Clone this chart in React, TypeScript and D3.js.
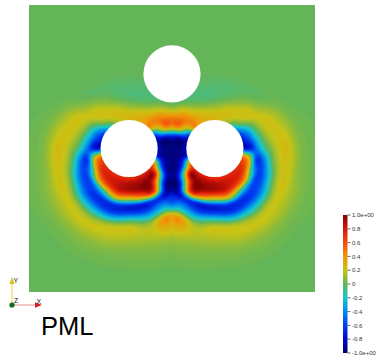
import { useMemo } from "react";
import * as d3 from "d3";

const W = 376;
const H = 355;

// field square in the page
const fieldLeft = 29, fieldTop = 5, fieldW = 286, fieldH = 287;

// holes (data units, domain -1..1)
const holeX = [0, -0.3, 0.3];
const holeY = [0.52, 0, 0];
const holeR = 0.2;

// field read around the lower-left hole (polar, angle in degrees from +x, y up);
// right half is the mirror image
const radii = [0.2, 0.25, 0.3, 0.35, 0.4, 0.45, 0.5, 0.55, 0.6, 0.7, 0.8, 0.9];
const at0 = [-0.85, -0.95, -0.95, -0.95, -0.9, -0.9, -0.9, -0.9, -0.9, -0.9, -0.9, -0.9];
const at15 = [-0.85, -0.92, -0.8, -0.4, -0.1, 0.1, 0.2, 0.1, 0, 0, 0, 0];
const at30 = [-0.55, 0.0, 0.45, 0.5, 0.45, 0.35, 0.25, 0.15, 0.05, 0, 0, 0];
const at45 = [0.4, 0.45, 0.45, 0.3, 0.1, 0, -0.02, 0, 0, 0, 0, 0];
const at60 = [0.35, 0.33, 0.2, 0.05, -0.04, -0.03, 0, 0, 0, 0, 0, 0];
const at75 = [0.3, 0.25, 0.1, -0.03, -0.05, -0.03, -0.01, 0, 0, 0, 0, 0];
const at90 = [0.28, 0.22, 0.08, -0.03, -0.05, -0.03, -0.01, 0, 0, 0, 0, 0];
const at105 = [0.2, 0.25, 0.15, 0.02, -0.03, -0.03, -0.01, 0, 0, 0, 0, 0];
const at120 = [0.05, 0.2, 0.22, 0.12, 0.03, -0.02, -0.01, 0, 0, 0, 0, 0];
const at135 = [-0.3, 0.05, 0.2, 0.22, 0.12, 0.04, 0, 0, 0, 0, 0, 0];
const at150 = [-0.6, -0.35, -0.05, 0.15, 0.22, 0.18, 0.1, 0.04, 0.01, 0, 0, 0];
const at165 = [-0.75, -0.55, -0.2, 0.05, 0.18, 0.22, 0.18, 0.1, 0.04, 0.01, 0, 0];
const at180 = [-0.8, -0.7, -0.4, -0.1, 0.08, 0.2, 0.25, 0.15, 0.06, 0.01, 0, 0];
const at195 = [0.45, 0.2, -0.6, -0.5, -0.12, 0.12, 0.22, 0.18, 0.08, 0.02, 0, 0];
const at210 = [0.7, 0.55, -0.2, -0.6, -0.45, -0.08, 0.15, 0.22, 0.14, 0.04, 0.01, 0];
const at225 = [0.72, 0.75, 0.35, -0.45, -0.6, -0.4, -0.05, 0.18, 0.18, 0.06, 0.01, 0];
const at240 = [0.72, 0.8, 0.6, -0.15, -0.65, -0.55, -0.2, 0.1, 0.2, 0.08, 0.02, 0];
const at255 = [0.72, 0.85, 0.8, 0.3, -0.6, -0.65, -0.25, 0.15, 0.2, 0.08, 0.02, 0];
const at270 = [0.7, 0.9, 0.85, 0.2, -0.7, -0.6, -0.1, 0.2, 0.18, 0.07, 0.02, 0];
const at285 = [0.75, 0.92, 0.92, 0.4, -0.7, -0.6, -0.2, 0.12, 0.18, 0.08, 0.03, 0];
const at300 = [0.75, 0.95, 0.95, 0.6, -0.6, -0.45, -0.1, 0.4, 0.3, 0.12, 0.04, 0];
const at315 = [0.75, 0.85, 0.0, -0.8, -0.95, -0.7, -0.6, -0.5, -0.4, 0.1, 0.03, 0];
const at330 = [0.5, -0.4, -0.85, -0.95, -0.85, -0.3, 0.8, 0.8, 0.5, 0.1, 0, 0];
const at345 = [-0.7, -0.9, -0.95, -0.95, -0.6, -0.3, -0.5, -0.5, -0.5, 0, 0, 0];
const rows = [
  at0, at15, at30, at45, at60, at75, at90, at105, at120, at135, at150, at165,
  at180, at195, at210, at225, at240, at255, at270, at285, at300, at315, at330, at345,
];

// colour map
const cmapStops = [-1, -0.8, -0.6, -0.4, -0.2, 0, 0.2, 0.4, 0.6, 0.8, 1];
const cmapColors = [
  "#00006e", "#000ac8", "#003cf0", "#008ceb", "#14c8d2", "#63b557",
  "#c8c314", "#f0960a", "#f0500a", "#d7190a", "#820000",
];
const barTicks = [1, 0.8, 0.6, 0.4, 0.2, 0, -0.2, -0.4, -0.6, -0.8, -1];
const barLabels = ["1.0e+00", "0.8", "0.6", "0.4", "0.2", "0", "-0.2", "-0.4", "-0.6", "-0.8", "-1.0e+00"];

function interp1(xs: number[], vs: number[], x: number) {
  const n = xs.length;
  if (x <= xs[0]) return vs[0];
  if (x >= xs[n - 1]) return vs[n - 1];
  let i = 0;
  while (i < n - 2 && x > xs[i + 1]) i++;
  const h = xs[i + 1] - xs[i];
  const t = (x - xs[i]) / h;
  const m0 = i > 0 ? (vs[i + 1] - vs[i - 1]) / (xs[i + 1] - xs[i - 1]) : (vs[i + 1] - vs[i]) / h;
  const m1 = i + 2 < n ? (vs[i + 2] - vs[i]) / (xs[i + 2] - xs[i]) : (vs[i + 1] - vs[i]) / h;
  const t2 = t * t, t3 = t2 * t;
  return (2 * t3 - 3 * t2 + 1) * vs[i] + (t3 - 2 * t2 + t) * h * m0 +
    (-2 * t3 + 3 * t2) * vs[i + 1] + (t3 - t2) * h * m1;
}

function fieldAt(x: number, y: number) {
  const dx = -Math.abs(x) - holeX[1];
  const dy = y - holeY[1];
  const r = Math.max(holeR, Math.hypot(dx, dy));
  if (r >= radii[radii.length - 1]) return 0;
  let a = (Math.atan2(dy, dx) * 180) / Math.PI;
  if (a < 0) a += 360;
  const k = rows.length;
  const step = 360 / k;
  const i = Math.floor(a / step);
  const t = a / step - i;
  const p = [-1, 0, 1, 2].map((o) => interp1(radii, rows[(i + o + k) % k], r));
  const v = 0.5 * (2 * p[1] + (-p[0] + p[2]) * t +
    (2 * p[0] - 5 * p[1] + 4 * p[2] - p[3]) * t * t +
    (-p[0] + 3 * p[1] - 3 * p[2] + p[3]) * t * t * t);
  return Math.max(-1, Math.min(1, v));
}

export default function App() {
  const nx = 143, ny = 144;
  const x = d3.scaleLinear().domain([-1, 1]).range([fieldLeft, fieldLeft + fieldW]);
  const y = d3.scaleLinear().domain([-1, 1]).range([fieldTop + fieldH, fieldTop]);
  const color = d3.scaleLinear<string>().domain(cmapStops).range(cmapColors).interpolate(d3.interpolateRgb);
  const bandStep = 0.02;

  const bands = useMemo(() => {
    const vals = new Array(nx * ny);
    for (let j = 0; j < ny; j++) {
      const yy = 1 - ((j + 0.5) * 2) / ny;
      for (let i = 0; i < nx; i++) {
        const xx = -1 + ((i + 0.5) * 2) / nx;
        vals[j * nx + i] = fieldAt(xx, yy);
      }
    }
    // band edges placed so that 0 sits in the middle of a band
    const th = d3.range(-1 + bandStep / 2, 1, bandStep);
    return d3.contours().size([nx, ny]).thresholds(th)(vals);
  }, []);

  const path = d3.geoPath();
  const barY = d3.scaleLinear().domain([-1, 1]).range([353, 215]);
  const barX = 343, barW = 4.5;

  return (
    <svg width={W} height={H} style={{ position: "absolute", left: 0, top: 0, background: "#fff" }}
      fontFamily="'Liberation Sans', Arial, sans-serif">
      <defs>
        <linearGradient id="cbar" x1="0" y1="1" x2="0" y2="0">
          {cmapStops.map((s, i) => (
            <stop key={i} offset={(s + 1) / 2} stopColor={cmapColors[i]} />
          ))}
        </linearGradient>
      </defs>
      <rect x={fieldLeft} y={fieldTop} width={fieldW} height={fieldH} fill={color(-1)} />
      <g transform={`translate(${fieldLeft},${fieldTop}) scale(${fieldW / nx},${fieldH / ny})`}>
        {bands.map((b, i) => (
          <path key={i} d={path(b) || ""} fill={color(Math.min(1, b.value + bandStep / 2))} />
        ))}
      </g>
      {holeX.map((hx, i) => (
        <circle key={i} cx={x(hx)} cy={y(holeY[i])} r={holeR * fieldW / 2} fill="#fff" />
      ))}

      {/* colour bar */}
      <rect x={barX} y={barY(1)} width={barW} height={barY(-1) - barY(1)} fill="url(#cbar)" />
      {barTicks.map((t, i) => (
        <g key={i} transform={`translate(0,${barY(t)})`}>
          <line x1={barX + barW} x2={barX + barW + 3} stroke="#444" strokeWidth={0.8} />
          <text x={barX + barW + 4.5} dy="0.35em" fontSize={6} fill="#333">{barLabels[i]}</text>
        </g>
      ))}

      {/* orientation axes */}
      <line x1={12} y1={305} x2={36} y2={305} stroke="#f0b4b4" strokeWidth={1.5} />
      <polygon points="35,302.3 42,305 35,307.7" fill="#d42020" />
      <line x1={12} y1={305} x2={12} y2={283} stroke="#e6dc64" strokeWidth={1.2} />
      <polygon points="9.5,284 12,277 14.5,284" fill="#d2c21e" />
      <circle cx={12} cy={305} r={2.6} fill="#0b6b1c" />
      <text x={13.5} y={282.5} fontSize={7} fill="#222">Y</text>
      <text x={14} y={303} fontSize={7} fill="#222">Z</text>
      <text x={36.5} y={303.5} fontSize={7} fill="#222">X</text>

      <text x={41} y={335} fontSize={25.5} fill="#000">PML</text>
    </svg>
  );
}
